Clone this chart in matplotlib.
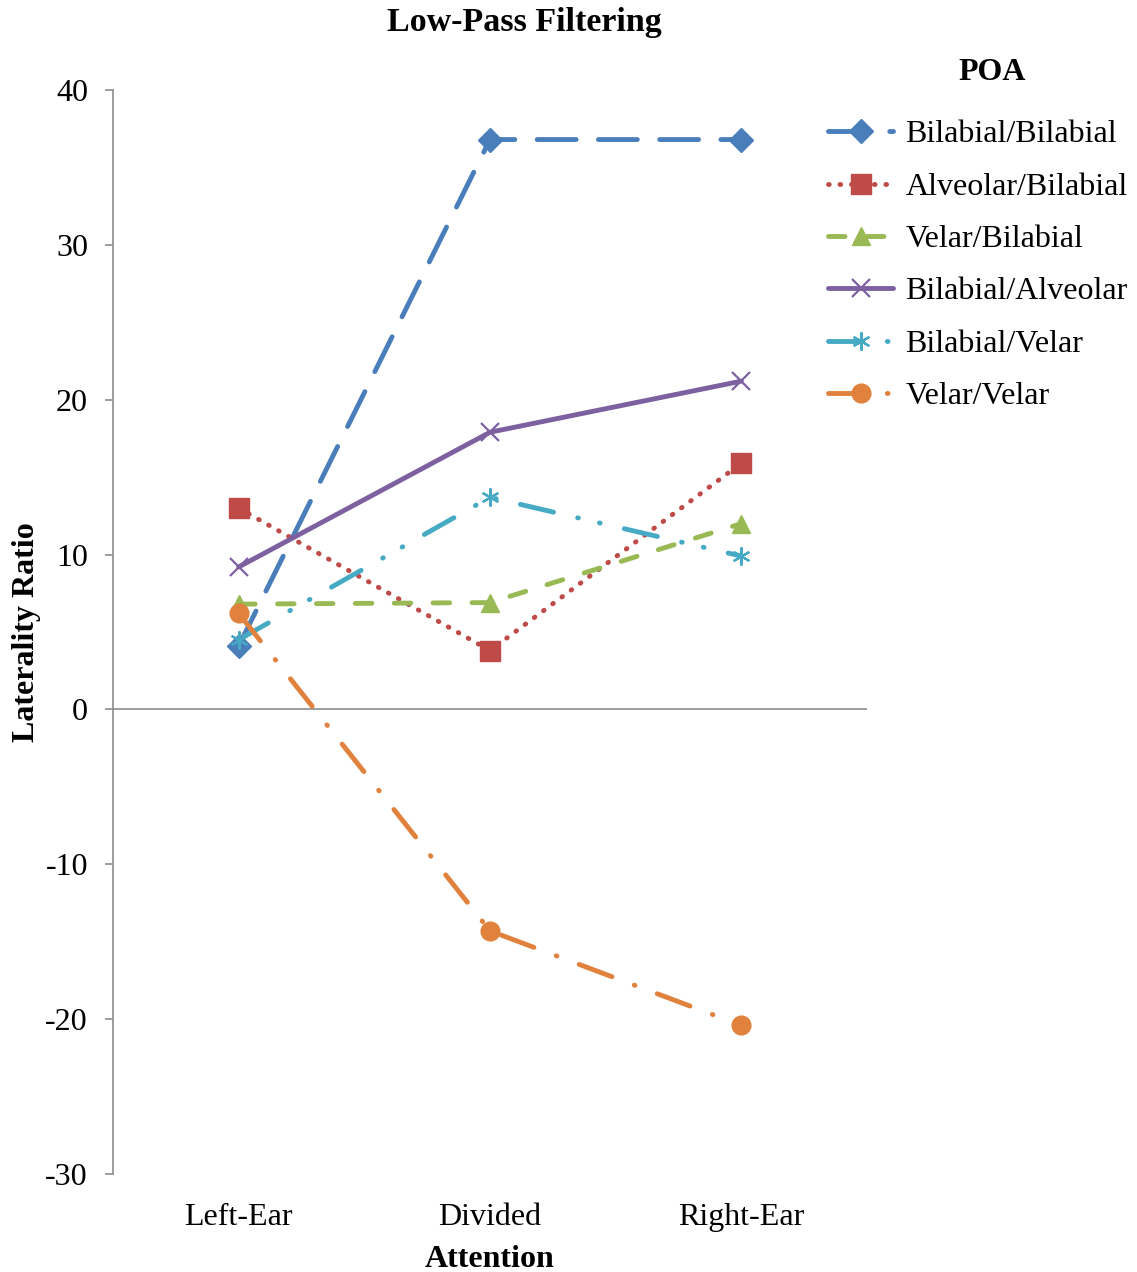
import matplotlib
matplotlib.use("Agg")
import matplotlib.pyplot as plt
from matplotlib.lines import Line2D

# Data
categories = ["Left-Ear", "Divided", "Right-Ear"]
series_names = ["Bilabial/Bilabial", "Alveolar/Bilabial", "Velar/Bilabial",
                "Bilabial/Alveolar", "Bilabial/Velar", "Velar/Velar"]
bilabial_bilabial = [4.1, 36.8, 36.8]
alveolar_bilabial = [13.0, 3.8, 15.9]
velar_bilabial = [6.8, 6.9, 12.0]
bilabial_alveolar = [9.2, 17.9, 21.2]
bilabial_velar = [4.5, 13.7, 9.9]
velar_velar = [6.2, -14.3, -20.4]
y_ticks = [40, 30, 20, 10, 0, -10, -20, -30]

values = [bilabial_bilabial, alveolar_bilabial, velar_bilabial,
          bilabial_alveolar, bilabial_velar, velar_velar]

# Styles (dash patterns in units of line width)
colors = ["#4A7EBB", "#BE4B48", "#98B954", "#7D60A0", "#46AAC5", "#E0823D"]
markers = ["D", "s", "^", "x", (6, 2, 0), "o"]
msizes = [12.5, 14, 13, 13, 13, 13.5]
dash_styles = [(0, (8, 4.6)),
               (0, (0.15, 2.21)),
               (0, (3.4, 4.6)),
               "-",
               (0, (7, 5.1, 0.15, 4.45, 0.15, 5.1)),
               (0, (7.2, 4.9, 0.15, 4.9))]
LW = 3.5

plt.rcParams["font.family"] = ["Liberation Serif", "DejaVu Serif"]
FS = 23

fig = plt.figure(figsize=(11.37, 12.72), dpi=100)
W, H = 1137, 1272
ax = fig.add_axes([113 / W, 1 - 1174 / H, (867 - 113) / W, (1174 - 90) / H])

x = list(range(len(categories)))
handles = []
for name, vals, c, m, ms, ls in zip(series_names, values, colors, markers, msizes, dash_styles):
    ax.plot(x, vals, color=c, linestyle=ls, linewidth=LW, dash_capstyle="round",
            solid_capstyle="round", zorder=3)
    mew = 1.6 if m in ("x", (6, 2, 0)) else 1
    ax.plot(x, vals, linestyle="none", marker=m, markersize=ms, color=c,
            markerfacecolor=c, markeredgecolor=c, markeredgewidth=mew, zorder=4)
    handles.append(Line2D([], [], color=c, linestyle=ls, linewidth=LW, marker=m,
                          markersize=ms, markerfacecolor=c, markeredgecolor=c,
                          markeredgewidth=mew, dash_capstyle="round",
                          solid_capstyle="round"))

ax.set_xlim(-0.5, 2.5)
ax.set_ylim(-30, 40)
ax.set_yticks(y_ticks)
ax.set_yticklabels([str(t) for t in y_ticks])
ax.set_xticks(x)
ax.set_xticklabels(categories)

for s in ("top", "right", "bottom"):
    ax.spines[s].set_visible(False)
ax.spines["left"].set_color("#8C8C8C")
ax.spines["left"].set_linewidth(1.2)
ax.axhline(0, color="#8C8C8C", linewidth=1.2, zorder=1)

ax.tick_params(axis="y", direction="out", length=6, width=1.2, color="#8C8C8C",
               labelsize=FS, pad=12)
ax.tick_params(axis="x", length=0, labelsize=FS, pad=21)

ax.set_xlabel("Attention", fontsize=FS, fontweight="bold", labelpad=9)
ax.set_ylabel("Laterality Ratio", fontsize=FS, fontweight="bold", labelpad=3)

fig.text(524 / W, 1 - 22 / H, "Low-Pass Filtering", ha="center", va="center",
         fontsize=24.5, fontweight="bold")
fig.text(992 / W, 1 - 72 / H, "POA", ha="center", va="center",
         fontsize=FS, fontweight="bold")

leg = fig.legend(handles, series_names, loc="upper left",
                 bbox_to_anchor=(828 / W, 1 - 120 / H), frameon=False,
                 fontsize=FS, handlelength=2.05, handletextpad=0.37,
                 labelspacing=0.72, borderaxespad=0, borderpad=0)

fig.savefig("out.png", dpi=100)
